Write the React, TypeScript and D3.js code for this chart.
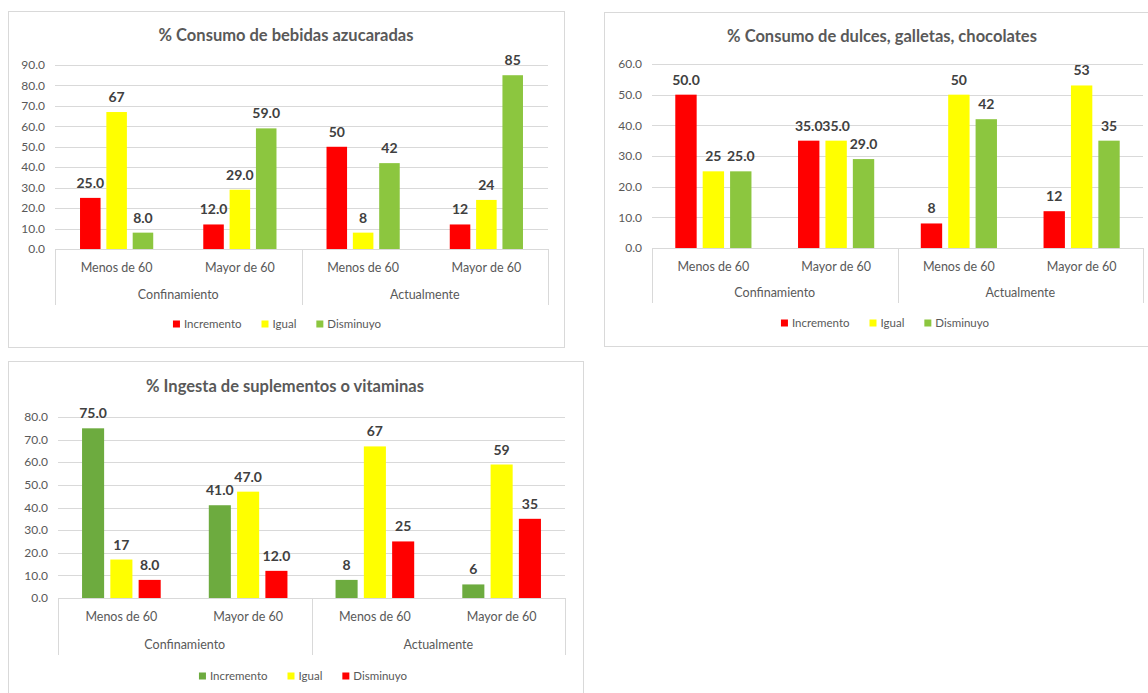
import React from "react";
import * as d3 from "d3";

// shared axis content
const categories = ["Menos de 60", "Mayor de 60", "Menos de 60", "Mayor de 60"];
const groups = ["Confinamiento", "Actualmente"];
const seriesNames = ["Incremento", "Igual", "Disminuyo"];

// % Consumo de bebidas azucaradas
const bebidasIncremento = [25, 12, 50, 12];
const bebidasIgual = [67, 29, 8, 24];
const bebidasDisminuyo = [8, 59, 42, 85];
const bebidasIncrementoLbl = ["25.0", "12.0", "50", "12"];
const bebidasIgualLbl = ["67", "29.0", "8", "24"];
const bebidasDisminuyoLbl = ["8.0", "59.0", "42", "85"];

// % Consumo de dulces, galletas, chocolates
const dulcesIncremento = [50, 35, 8, 12];
const dulcesIgual = [25, 35, 50, 53];
const dulcesDisminuyo = [25, 29, 42, 35];
const dulcesIncrementoLbl = ["50.0", "35.0", "8", "12"];
const dulcesIgualLbl = ["25", "35.0", "50", "53"];
const dulcesDisminuyoLbl = ["25.0", "29.0", "42", "35"];

// % Ingesta de suplementos o vitaminas
const suplIncremento = [75, 41, 8, 6];
const suplIgual = [17, 47, 67, 59];
const suplDisminuyo = [8, 12, 25, 35];
const suplIncrementoLbl = ["75.0", "41.0", "8", "6"];
const suplIgualLbl = ["17", "47.0", "67", "59"];
const suplDisminuyoLbl = ["8.0", "12.0", "25", "35"];

const RED = "#ff0000";
const YELLOW = "#ffff00";
const LIGHTGREEN = "#8cc63f";
const DARKGREEN = "#6dab3f";

const FONT = "Lato, 'Open Sans', sans-serif";
const TXT = "#595959";
const GRID = "#d9d9d9";

let ctx: CanvasRenderingContext2D | null = null;
const textWidth = (s: string, font: string) => {
  if (!ctx) ctx = document.createElement("canvas").getContext("2d");
  ctx!.font = font;
  return ctx!.measureText(s).width;
};

type Panel = {
  title: string;
  titleX: number;
  titleY: number;
  box: [number, number, number, number];
  left: number;
  right: number;
  top: number;
  bottom: number;
  yMax: number;
  outer: number;
  catY: number;
  groupY: number;
  sepBottom: number;
  legendY: number;
  legendCx: number;
  colors: string[];
  values: number[][];
  labels: string[][];
};

const panels: Panel[] = [
  {
    title: "% Consumo de bebidas azucaradas",
    titleX: 286, titleY: 41,
    box: [8, 11, 556, 336],
    left: 55, right: 548, top: 65, bottom: 249,
    yMax: 90, outer: 0.95,
    catY: 272, groupY: 299, sepBottom: 305,
    legendY: 324, legendCx: 277,
    colors: [RED, YELLOW, LIGHTGREEN],
    values: [bebidasIncremento, bebidasIgual, bebidasDisminuyo],
    labels: [bebidasIncrementoLbl, bebidasIgualLbl, bebidasDisminuyoLbl],
  },
  {
    title: "% Consumo de dulces, galletas, chocolates",
    titleX: 882, titleY: 42,
    box: [604, 12, 560, 334],
    left: 652, right: 1143, top: 64, bottom: 248,
    yMax: 60, outer: 0.85,
    catY: 271, groupY: 297, sepBottom: 303,
    legendY: 323, legendCx: 885,
    colors: [RED, YELLOW, LIGHTGREEN],
    values: [dulcesIncremento, dulcesIgual, dulcesDisminuyo],
    labels: [dulcesIncrementoLbl, dulcesIgualLbl, dulcesDisminuyoLbl],
  },
  {
    title: "% Ingesta de suplementos o vitaminas",
    titleX: 285, titleY: 392,
    box: [8, 361, 575, 345],
    left: 58, right: 565, top: 417, bottom: 598,
    yMax: 80, outer: 0.85,
    catY: 621, groupY: 649, sepBottom: 655,
    legendY: 676, legendCx: 303,
    colors: [DARKGREEN, YELLOW, RED],
    values: [suplIncremento, suplIgual, suplDisminuyo],
    labels: [suplIncrementoLbl, suplIgualLbl, suplDisminuyoLbl],
  },
];

const BarPanel = ({ p }: { p: Panel }) => {
  const x0 = d3.scaleBand<number>().domain(d3.range(categories.length)).range([p.left, p.right]).padding(0);
  const x1 = d3.scaleBand<number>().domain(d3.range(seriesNames.length)).range([0, x0.bandwidth()])
    .paddingInner(0.22).paddingOuter(p.outer);
  const y = d3.scaleLinear().domain([0, p.yMax]).range([p.bottom, p.top]);
  const ticks = d3.range(0, p.yMax + 1, 10);
  const groupScale = d3.scaleBand<number>().domain(d3.range(groups.length)).range([p.left, p.right]);

  const legendFont = `11.5px ${FONT}`;
  const items = seriesNames.map(n => 7 + 4 + textWidth(n, legendFont));
  const gap = 20;
  const total = d3.sum(items) + gap * (items.length - 1);
  let lx = p.legendCx - total / 2;
  const legendPos = items.map(w => { const v = lx; lx += w + gap; return v; });

  return (
    <g>
      <rect x={p.box[0] + 0.5} y={p.box[1] + 0.5} width={p.box[2]} height={p.box[3]} fill="#fff" stroke={GRID} />
      <text x={p.titleX} y={p.titleY} textAnchor="middle" fontFamily={FONT} fontWeight="bold" fontSize={16.5} fill={TXT}>
        {p.title}
      </text>
      {ticks.map(t => (
        <g key={t}>
          <line x1={p.left} x2={p.right} y1={Math.round(y(t)) + 0.5} y2={Math.round(y(t)) + 0.5} stroke={GRID} />
          <text x={p.left - 10} y={y(t)} dy="0.35em" textAnchor="end" fontFamily={FONT} fontSize={12} fill={TXT}>
            {t.toFixed(1)}
          </text>
        </g>
      ))}
      {[p.left, (p.left + p.right) / 2, p.right].map((sx, i) => (
        <line key={i} x1={Math.round(sx) + 0.5} x2={Math.round(sx) + 0.5} y1={p.bottom} y2={p.sepBottom} stroke={GRID} />
      ))}
      {categories.map((c, i) => (
        <text key={i} x={x0(i)! + x0.bandwidth() / 2} y={p.catY} textAnchor="middle" fontFamily={FONT} fontSize={12.5} fill={TXT}>
          {c}
        </text>
      ))}
      {groups.map((g, i) => (
        <text key={i} x={groupScale(i)! + groupScale.bandwidth() / 2} y={p.groupY} textAnchor="middle" fontFamily={FONT} fontSize={12.5} fill={TXT}>
          {g}
        </text>
      ))}
      {p.values.map((vals, s) =>
        vals.map((v, c) => (
          <rect key={`${s}-${c}`} x={x0(c)! + x1(s)!} y={y(v)} width={x1.bandwidth()} height={y(0) - y(v)} fill={p.colors[s]} />
        ))
      )}
      {p.values.map((vals, s) =>
        vals.map((v, c) => (
          <text key={`l${s}-${c}`} x={x0(c)! + x1(s)! + x1.bandwidth() / 2} y={y(v) - 10} textAnchor="middle"
            fontFamily={FONT} fontWeight="bold" fontSize={14} fill="#404040">
            {p.labels[s][c]}
          </text>
        ))
      )}
      {seriesNames.map((n, s) => (
        <g key={n} transform={`translate(${legendPos[s]},${p.legendY})`}>
          <rect x={0} y={-3.5} width={7} height={7} fill={p.colors[s]} />
          <text x={11} y={0} dy="0.35em" fontFamily={FONT} fontSize={11.5} fill={TXT}>{n}</text>
        </g>
      ))}
    </g>
  );
};

export default function App() {
  return (
    <svg width={1148} height={693} style={{ position: "absolute", left: 0, top: 0, background: "#fff" }}>
      <rect width={1148} height={693} fill="#fff" />
      {panels.map((p, i) => <BarPanel key={i} p={p} />)}
    </svg>
  );
}
